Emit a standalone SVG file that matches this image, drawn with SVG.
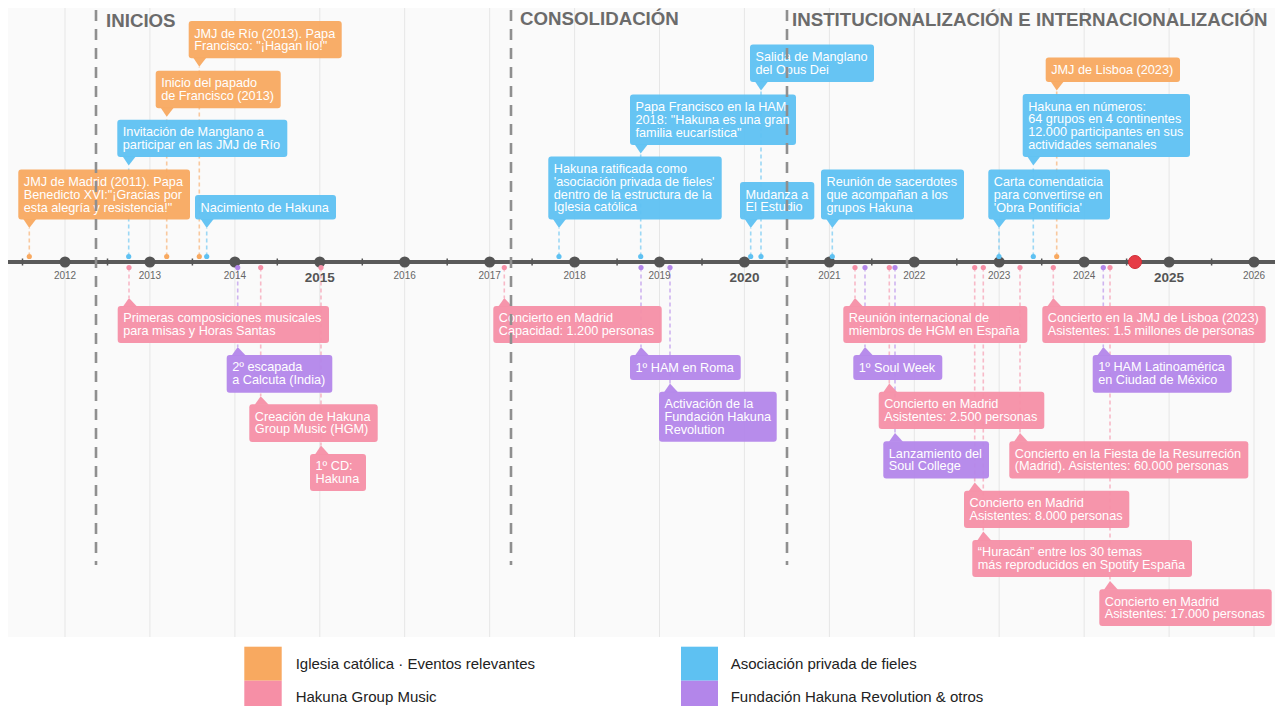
<svg xmlns="http://www.w3.org/2000/svg" width="1282" height="706" viewBox="0 0 1282 706">
<style>
text{font-family:"Liberation Sans",Arial,Helvetica,sans-serif}
.t{fill:#fff;font-size:12.7px}
.o{fill:#F8A960}.b{fill:#5EC1F2}.p{fill:#F68FA6}.v{fill:#B386EA}
.box rect,.box polygon{opacity:0.95}
.c{stroke-width:1.6;stroke-dasharray:4 3;opacity:0.6;fill:none}
.co{stroke:#F8A960}.cb{stroke:#5EC1F2}.cp{stroke:#F68FA6}.cv{stroke:#B386EA}
.grid{stroke:#e6e6e6;stroke-width:1}
.phase{stroke:#8f8f8f;stroke-width:2.6;stroke-dasharray:11 8}
.ptitle{font-size:18.7px;font-weight:bold;fill:#6b6b6b}
.yr{font-size:10px;fill:#666;text-anchor:middle}
.yrb{font-size:13.5px;font-weight:bold;fill:#555;text-anchor:middle}
.tick{stroke:#555;stroke-width:1.5}
.ydot{fill:#555}
.leg{font-size:15px;fill:#222}
</style>
<rect x="0" y="0" width="1282" height="706" fill="#fff"/>
<rect x="8" y="8" width="1267" height="629" fill="#fafafa"/>
<g id="grid">
<line class="grid" x1="65" y1="8" x2="65" y2="637"/>
<line class="grid" x1="149.9" y1="8" x2="149.9" y2="637"/>
<line class="grid" x1="234.9" y1="8" x2="234.9" y2="637"/>
<line class="grid" x1="319.8" y1="8" x2="319.8" y2="637"/>
<line class="grid" x1="404.7" y1="8" x2="404.7" y2="637"/>
<line class="grid" x1="489.7" y1="8" x2="489.7" y2="637"/>
<line class="grid" x1="574.6" y1="8" x2="574.6" y2="637"/>
<line class="grid" x1="659.5" y1="8" x2="659.5" y2="637"/>
<line class="grid" x1="744.4" y1="8" x2="744.4" y2="637"/>
<line class="grid" x1="829.4" y1="8" x2="829.4" y2="637"/>
<line class="grid" x1="914.3" y1="8" x2="914.3" y2="637"/>
<line class="grid" x1="999.2" y1="8" x2="999.2" y2="637"/>
<line class="grid" x1="1084.2" y1="8" x2="1084.2" y2="637"/>
<line class="grid" x1="1169.1" y1="8" x2="1169.1" y2="637"/>
<line class="grid" x1="1254" y1="8" x2="1254" y2="637"/>
</g>
<g id="connectors">
<line class="c co" x1="29.3" y1="256.5" x2="29.3" y2="228"/>
<line class="c cb" x1="128.7" y1="256.5" x2="128.7" y2="165.5"/>
<line class="c co" x1="166.7" y1="256.5" x2="166.7" y2="116.8"/>
<line class="c co" x1="199.3" y1="256.5" x2="199.3" y2="66.8"/>
<line class="c cb" x1="206.7" y1="256.5" x2="206.7" y2="228"/>
<line class="c cb" x1="559" y1="256.5" x2="559" y2="228"/>
<line class="c cb" x1="640.7" y1="256.5" x2="640.7" y2="153.5"/>
<line class="c cb" x1="761" y1="256.5" x2="761" y2="90.5"/>
<line class="c cb" x1="750.7" y1="256.5" x2="750.7" y2="228"/>
<line class="c cb" x1="832.3" y1="256.5" x2="832.3" y2="228"/>
<line class="c cb" x1="999" y1="256.5" x2="999" y2="228"/>
<line class="c cb" x1="1033.3" y1="256.5" x2="1033.3" y2="165.5"/>
<line class="c co" x1="1056.7" y1="256.5" x2="1056.7" y2="90.5"/>
<line class="c cp" x1="129" y1="267.5" x2="129" y2="298"/>
<line class="c cv" x1="237.7" y1="267.5" x2="237.7" y2="347"/>
<line class="c cp" x1="260.7" y1="267.5" x2="260.7" y2="396.3"/>
<line class="c cp" x1="321" y1="267.5" x2="321" y2="445.5"/>
<line class="c cp" x1="504.3" y1="267.5" x2="504.3" y2="298"/>
<line class="c cv" x1="641" y1="267.5" x2="641" y2="347"/>
<line class="c cv" x1="670" y1="267.5" x2="670" y2="383.5"/>
<line class="c cp" x1="855" y1="267.5" x2="855" y2="298"/>
<line class="c cv" x1="865" y1="267.5" x2="865" y2="347"/>
<line class="c cp" x1="889.3" y1="267.5" x2="889.3" y2="383.5"/>
<line class="c cv" x1="895" y1="267.5" x2="895" y2="433"/>
<line class="c cp" x1="974.7" y1="267.5" x2="974.7" y2="482.5"/>
<line class="c cp" x1="983.3" y1="267.5" x2="983.3" y2="531.5"/>
<line class="c cp" x1="1020" y1="267.5" x2="1020" y2="433"/>
<line class="c cp" x1="1053.3" y1="267.5" x2="1053.3" y2="298"/>
<line class="c cv" x1="1103.3" y1="267.5" x2="1103.3" y2="347"/>
<line class="c cp" x1="1110" y1="267.5" x2="1110" y2="581"/>
</g>
<g id="axis">
<line x1="8" y1="262" x2="1275" y2="262" stroke="#5a5a5a" stroke-width="4"/>
<line class="tick" x1="22.5" y1="258.5" x2="22.5" y2="265.5"/>
<line class="tick" x1="107.5" y1="258.5" x2="107.5" y2="265.5"/>
<line class="tick" x1="192.4" y1="258.5" x2="192.4" y2="265.5"/>
<line class="tick" x1="277.3" y1="258.5" x2="277.3" y2="265.5"/>
<line class="tick" x1="362.3" y1="258.5" x2="362.3" y2="265.5"/>
<line class="tick" x1="447.2" y1="258.5" x2="447.2" y2="265.5"/>
<line class="tick" x1="532.1" y1="258.5" x2="532.1" y2="265.5"/>
<line class="tick" x1="617.1" y1="258.5" x2="617.1" y2="265.5"/>
<line class="tick" x1="702" y1="258.5" x2="702" y2="265.5"/>
<line class="tick" x1="786.9" y1="258.5" x2="786.9" y2="265.5"/>
<line class="tick" x1="871.8" y1="258.5" x2="871.8" y2="265.5"/>
<line class="tick" x1="956.8" y1="258.5" x2="956.8" y2="265.5"/>
<line class="tick" x1="1041.7" y1="258.5" x2="1041.7" y2="265.5"/>
<line class="tick" x1="1126.6" y1="258.5" x2="1126.6" y2="265.5"/>
<line class="tick" x1="1211.6" y1="258.5" x2="1211.6" y2="265.5"/>
<circle class="ydot" cx="65" cy="262" r="5.5"/>
<circle class="ydot" cx="149.9" cy="262" r="5.5"/>
<circle class="ydot" cx="234.9" cy="262" r="5.5"/>
<circle class="ydot" cx="319.8" cy="262" r="5.5"/>
<circle class="ydot" cx="404.7" cy="262" r="5.5"/>
<circle class="ydot" cx="489.7" cy="262" r="5.5"/>
<circle class="ydot" cx="574.6" cy="262" r="5.5"/>
<circle class="ydot" cx="659.5" cy="262" r="5.5"/>
<circle class="ydot" cx="744.4" cy="262" r="5.5"/>
<circle class="ydot" cx="829.4" cy="262" r="5.5"/>
<circle class="ydot" cx="914.3" cy="262" r="5.5"/>
<circle class="ydot" cx="999.2" cy="262" r="5.5"/>
<circle class="ydot" cx="1084.2" cy="262" r="5.5"/>
<circle class="ydot" cx="1169.1" cy="262" r="5.5"/>
<circle class="ydot" cx="1254" cy="262" r="5.5"/>
<circle cx="1135" cy="262" r="6.5" fill="#e63c46" stroke="#cf2c36" stroke-width="1"/>
<text class="yr" x="65" y="278.5">2012</text>
<text class="yr" x="149.9" y="278.5">2013</text>
<text class="yr" x="234.9" y="278.5">2014</text>
<text class="yrb" x="319.8" y="282">2015</text>
<text class="yr" x="404.7" y="278.5">2016</text>
<text class="yr" x="489.7" y="278.5">2017</text>
<text class="yr" x="574.6" y="278.5">2018</text>
<text class="yr" x="659.5" y="278.5">2019</text>
<text class="yrb" x="744.4" y="282">2020</text>
<text class="yr" x="829.4" y="278.5">2021</text>
<text class="yr" x="914.3" y="278.5">2022</text>
<text class="yr" x="999.2" y="278.5">2023</text>
<text class="yr" x="1084.2" y="278.5">2024</text>
<text class="yrb" x="1169.1" y="282">2025</text>
<text class="yr" x="1254" y="278.5">2026</text>
</g>
<g id="event-dots">
<circle class="o" cx="29.3" cy="256.5" r="2.6"/>
<circle class="b" cx="128.7" cy="256.5" r="2.6"/>
<circle class="o" cx="166.7" cy="256.5" r="2.6"/>
<circle class="o" cx="199.3" cy="256.5" r="2.6"/>
<circle class="b" cx="206.7" cy="256.5" r="2.6"/>
<circle class="b" cx="559" cy="256.5" r="2.6"/>
<circle class="b" cx="640.7" cy="256.5" r="2.6"/>
<circle class="b" cx="761" cy="256.5" r="2.6"/>
<circle class="b" cx="750.7" cy="256.5" r="2.6"/>
<circle class="b" cx="832.3" cy="256.5" r="2.6"/>
<circle class="b" cx="999" cy="256.5" r="2.6"/>
<circle class="b" cx="1033.3" cy="256.5" r="2.6"/>
<circle class="o" cx="1056.7" cy="256.5" r="2.6"/>
<circle class="p" cx="129" cy="267.5" r="2.6"/>
<circle class="v" cx="237.7" cy="267.5" r="2.6"/>
<circle class="p" cx="260.7" cy="267.5" r="2.6"/>
<circle class="p" cx="321" cy="267.5" r="2.6"/>
<circle class="p" cx="504.3" cy="267.5" r="2.6"/>
<circle class="v" cx="641" cy="267.5" r="2.6"/>
<circle class="v" cx="670" cy="267.5" r="2.6"/>
<circle class="p" cx="855" cy="267.5" r="2.6"/>
<circle class="v" cx="865" cy="267.5" r="2.6"/>
<circle class="p" cx="889.3" cy="267.5" r="2.6"/>
<circle class="v" cx="895" cy="267.5" r="2.6"/>
<circle class="p" cx="974.7" cy="267.5" r="2.6"/>
<circle class="p" cx="983.3" cy="267.5" r="2.6"/>
<circle class="p" cx="1020" cy="267.5" r="2.6"/>
<circle class="p" cx="1053.3" cy="267.5" r="2.6"/>
<circle class="v" cx="1103.3" cy="267.5" r="2.6"/>
<circle class="p" cx="1110" cy="267.5" r="2.6"/>
</g>
<g id="nodes">
<g id="n-jmj-madrid" class="box"><rect class="o" x="18.3" y="169.5" width="171.7" height="50" rx="3"/><polygon class="o" points="23.3,219 29.3,228 36.3,219"/><text class="t" x="23.8" y="186">JMJ de Madrid (2011). Papa<tspan x="23.8" y="198.8">Benedicto XVI:"¡Gracias por</tspan><tspan x="23.8" y="211.6">esta alegría y resistencia!"</tspan></text></g>
<g id="n-invitacion" class="box"><rect class="b" x="117.3" y="119.7" width="170" height="37.3" rx="3"/><polygon class="b" points="122.7,156.5 128.7,165.5 135.7,156.5"/><text class="t" x="122.8" y="136.2">Invitación de Manglano a<tspan x="122.8" y="149">participar en las JMJ de Río</tspan></text></g>
<g id="n-papado" class="box"><rect class="o" x="155.7" y="70.8" width="125" height="37.5" rx="3"/><polygon class="o" points="160.7,107.8 166.7,116.8 173.7,107.8"/><text class="t" x="161.2" y="87.3">Inicio del papado<tspan x="161.2" y="100.1">de Francisco (2013)</tspan></text></g>
<g id="n-jmj-rio" class="box"><rect class="o" x="188.7" y="21" width="153" height="37.3" rx="3"/><polygon class="o" points="193.3,57.8 199.3,66.8 206.3,57.8"/><text class="t" x="194.2" y="37.5">JMJ de Río (2013). Papa<tspan x="194.2" y="50.3">Francisco: "¡Hagan lío!"</tspan></text></g>
<g id="n-nacimiento" class="box"><rect class="b" x="195" y="195" width="141" height="24.5" rx="3"/><polygon class="b" points="200.7,219 206.7,228 213.7,219"/><text class="t" x="200.5" y="211.5">Nacimiento de Hakuna</text></g>
<g id="n-ratificada" class="box"><rect class="b" x="548.3" y="156.5" width="173.4" height="63" rx="3"/><polygon class="b" points="553,219 559,228 566,219"/><text class="t" x="553.8" y="173">Hakuna ratificada como<tspan x="553.8" y="185.8">'asociación privada de fieles'</tspan><tspan x="553.8" y="198.6">dentro de la estructura de la</tspan><tspan x="553.8" y="211.4">Iglesia católica</tspan></text></g>
<g id="n-papa-ham" class="box"><rect class="b" x="630" y="94.5" width="166" height="50.5" rx="3"/><polygon class="b" points="634.7,144.5 640.7,153.5 647.7,144.5"/><text class="t" x="635.5" y="111">Papa Francisco en la HAM<tspan x="635.5" y="123.8">2018: "Hakuna es una gran</tspan><tspan x="635.5" y="136.6">familia eucarística"</tspan></text></g>
<g id="n-salida" class="box"><rect class="b" x="750" y="44.5" width="124" height="37.5" rx="3"/><polygon class="b" points="755,81.5 761,90.5 768,81.5"/><text class="t" x="755.5" y="61">Salida de Manglano<tspan x="755.5" y="73.8">del Opus Dei</tspan></text></g>
<g id="n-mudanza" class="box"><rect class="b" x="740" y="182" width="74.3" height="37.5" rx="3"/><polygon class="b" points="744.7,219 750.7,228 757.7,219"/><text class="t" x="745.5" y="198.5">Mudanza a<tspan x="745.5" y="211.3">El Estudio</tspan></text></g>
<g id="n-reunion-sacerdotes" class="box"><rect class="b" x="821" y="169.5" width="143" height="50" rx="3"/><polygon class="b" points="826.3,219 832.3,228 839.3,219"/><text class="t" x="826.5" y="186">Reunión de sacerdotes<tspan x="826.5" y="198.8">que acompañan a los</tspan><tspan x="826.5" y="211.6">grupos Hakuna</tspan></text></g>
<g id="n-carta" class="box"><rect class="b" x="988.3" y="169.5" width="121.7" height="50" rx="3"/><polygon class="b" points="993,219 999,228 1006,219"/><text class="t" x="993.8" y="186">Carta comendaticia<tspan x="993.8" y="198.8">para convertirse en</tspan><tspan x="993.8" y="211.6">'Obra Pontificia'</tspan></text></g>
<g id="n-numeros" class="box"><rect class="b" x="1022.7" y="94" width="167.3" height="63" rx="3"/><polygon class="b" points="1027.3,156.5 1033.3,165.5 1040.3,156.5"/><text class="t" x="1028.2" y="110.5">Hakuna en números:<tspan x="1028.2" y="123.3">64 grupos en 4 continentes</tspan><tspan x="1028.2" y="136.1">12.000 participantes en sus</tspan><tspan x="1028.2" y="148.9">actividades semanales</tspan></text></g>
<g id="n-jmj-lisboa" class="box"><rect class="o" x="1045.7" y="57.5" width="134.3" height="24.5" rx="3"/><polygon class="o" points="1050.7,81.5 1056.7,90.5 1063.7,81.5"/><text class="t" x="1051.2" y="74">JMJ de Lisboa (2023)</text></g>
<g id="n-primeras" class="box"><rect class="p" x="117.7" y="306" width="211.3" height="37" rx="3"/><polygon class="p" points="123,306.5 129,298 137,306.5"/><text class="t" x="123.2" y="322.2">Primeras composiciones musicales<tspan x="123.2" y="335">para misas y Horas Santas</tspan></text></g>
<g id="n-calcuta" class="box"><rect class="v" x="226.7" y="355" width="105.6" height="37.7" rx="3"/><polygon class="v" points="231.7,355.5 237.7,347 245.7,355.5"/><text class="t" x="232.2" y="371.2">2º escapada<tspan x="232.2" y="384">a Calcuta (India)</tspan></text></g>
<g id="n-creacion-hgm" class="box"><rect class="p" x="249.3" y="404.3" width="128.4" height="37.7" rx="3"/><polygon class="p" points="254.7,404.8 260.7,396.3 268.7,404.8"/><text class="t" x="254.8" y="420.5">Creación de Hakuna<tspan x="254.8" y="433.3">Group Music (HGM)</tspan></text></g>
<g id="n-cd" class="box"><rect class="p" x="310" y="454" width="56" height="37" rx="3"/><polygon class="p" points="315,454.5 321,445.5 329,454.5"/><text class="t" x="315.5" y="470.2">1º CD:<tspan x="315.5" y="483">Hakuna</tspan></text></g>
<g id="n-concierto-1200" class="box"><rect class="p" x="493.3" y="306" width="168.4" height="37" rx="3"/><polygon class="p" points="498.3,306.5 504.3,298 512.3,306.5"/><text class="t" x="498.8" y="322.2">Concierto en Madrid<tspan x="498.8" y="335">Capacidad: 1.200 personas</tspan></text></g>
<g id="n-ham-roma" class="box"><rect class="v" x="630" y="355" width="110.7" height="25" rx="3"/><polygon class="v" points="635,355.5 641,347 649,355.5"/><text class="t" x="635.5" y="371.5">1º HAM en Roma</text></g>
<g id="n-fundacion" class="box"><rect class="v" x="659" y="391.7" width="117.7" height="50" rx="3"/><polygon class="v" points="664,392.2 670,383.5 678,392.2"/><text class="t" x="664.5" y="408">Activación de la<tspan x="664.5" y="420.8">Fundación Hakuna</tspan><tspan x="664.5" y="433.6">Revolution</tspan></text></g>
<g id="n-reunion-hgm" class="box"><rect class="p" x="843.3" y="306" width="184" height="37" rx="3"/><polygon class="p" points="849,306.5 855,298 863,306.5"/><text class="t" x="848.8" y="322.2">Reunión internacional de<tspan x="848.8" y="335">miembros de HGM en España</tspan></text></g>
<g id="n-soul-week" class="box"><rect class="v" x="853.3" y="355" width="89" height="25" rx="3"/><polygon class="v" points="859,355.5 865,347 873,355.5"/><text class="t" x="858.8" y="371.5">1º Soul Week</text></g>
<g id="n-concierto-2500" class="box"><rect class="p" x="878.7" y="391.7" width="165.6" height="37.3" rx="3"/><polygon class="p" points="883.3,392.2 889.3,383.5 897.3,392.2"/><text class="t" x="884.2" y="408">Concierto en Madrid<tspan x="884.2" y="420.8">Asistentes: 2.500 personas</tspan></text></g>
<g id="n-soul-college" class="box"><rect class="v" x="883.3" y="441.3" width="105.7" height="37.2" rx="3"/><polygon class="v" points="889,441.8 895,433 903,441.8"/><text class="t" x="888.8" y="457.5">Lanzamiento del<tspan x="888.8" y="470.3">Soul College</tspan></text></g>
<g id="n-concierto-8000" class="box"><rect class="p" x="964" y="490.7" width="165.3" height="37.3" rx="3"/><polygon class="p" points="968.7,491.2 974.7,482.5 982.7,491.2"/><text class="t" x="969.5" y="507">Concierto en Madrid<tspan x="969.5" y="519.8">Asistentes: 8.000 personas</tspan></text></g>
<g id="n-huracan" class="box"><rect class="p" x="972.3" y="540" width="219.7" height="37" rx="3"/><polygon class="p" points="977.3,540.5 983.3,531.5 991.3,540.5"/><text class="t" x="977.8" y="556.2">“Huracán” entre los 30 temas<tspan x="977.8" y="569">más reproducidos en Spotify España</tspan></text></g>
<g id="n-resurreccion" class="box"><rect class="p" x="1009.3" y="441.3" width="239" height="37.2" rx="3"/><polygon class="p" points="1014,441.8 1020,433 1028,441.8"/><text class="t" x="1014.8" y="457.5">Concierto en la Fiesta de la Resurreción<tspan x="1014.8" y="470.3">(Madrid). Asistentes: 60.000 personas</tspan></text></g>
<g id="n-concierto-lisboa" class="box"><rect class="p" x="1042.3" y="306" width="223.4" height="37" rx="3"/><polygon class="p" points="1047.3,306.5 1053.3,298 1061.3,306.5"/><text class="t" x="1047.8" y="322.2">Concierto en la JMJ de Lisboa (2023)<tspan x="1047.8" y="335">Asistentes: 1.5 millones de personas</tspan></text></g>
<g id="n-ham-mexico" class="box"><rect class="v" x="1092.7" y="355" width="139" height="37.7" rx="3"/><polygon class="v" points="1097.3,355.5 1103.3,347 1111.3,355.5"/><text class="t" x="1098.2" y="371.2">1º HAM Latinoamérica<tspan x="1098.2" y="384">en Ciudad de México</tspan></text></g>
<g id="n-concierto-17000" class="box"><rect class="p" x="1099.3" y="589.3" width="172.4" height="36.7" rx="3"/><polygon class="p" points="1104,589.8 1110,581 1118,589.8"/><text class="t" x="1104.8" y="605.5">Concierto en Madrid<tspan x="1104.8" y="618.3">Asistentes: 17.000 personas</tspan></text></g>
</g>
<g id="phases">
<line class="phase" x1="96" y1="10" x2="96" y2="565"/>
<line class="phase" x1="511" y1="10" x2="511" y2="565"/>
<line class="phase" x1="787" y1="10" x2="787" y2="565"/>
<text class="ptitle" x="106" y="27">INICIOS</text>
<text class="ptitle" x="520" y="25">CONSOLIDACIÓN</text>
<text class="ptitle" x="792" y="25.5">INSTITUCIONALIZACIÓN E INTERNACIONALIZACIÓN</text>
</g>
<g id="legend">
<rect class="o" x="244.3" y="646.7" width="37.4" height="34"/>
<rect class="p" x="244.3" y="680.7" width="37.4" height="26"/>
<rect class="b" x="681" y="646.7" width="37" height="34"/>
<rect class="v" x="681" y="680.7" width="37" height="26"/>
<text class="leg" x="295.7" y="668.5">Iglesia católica · Eventos relevantes</text>
<text class="leg" x="295.7" y="701.5">Hakuna Group Music</text>
<text class="leg" x="730.7" y="668.5">Asociación privada de fieles</text>
<text class="leg" x="730.7" y="701.5">Fundación Hakuna Revolution &amp; otros</text>
</g>
</svg>
